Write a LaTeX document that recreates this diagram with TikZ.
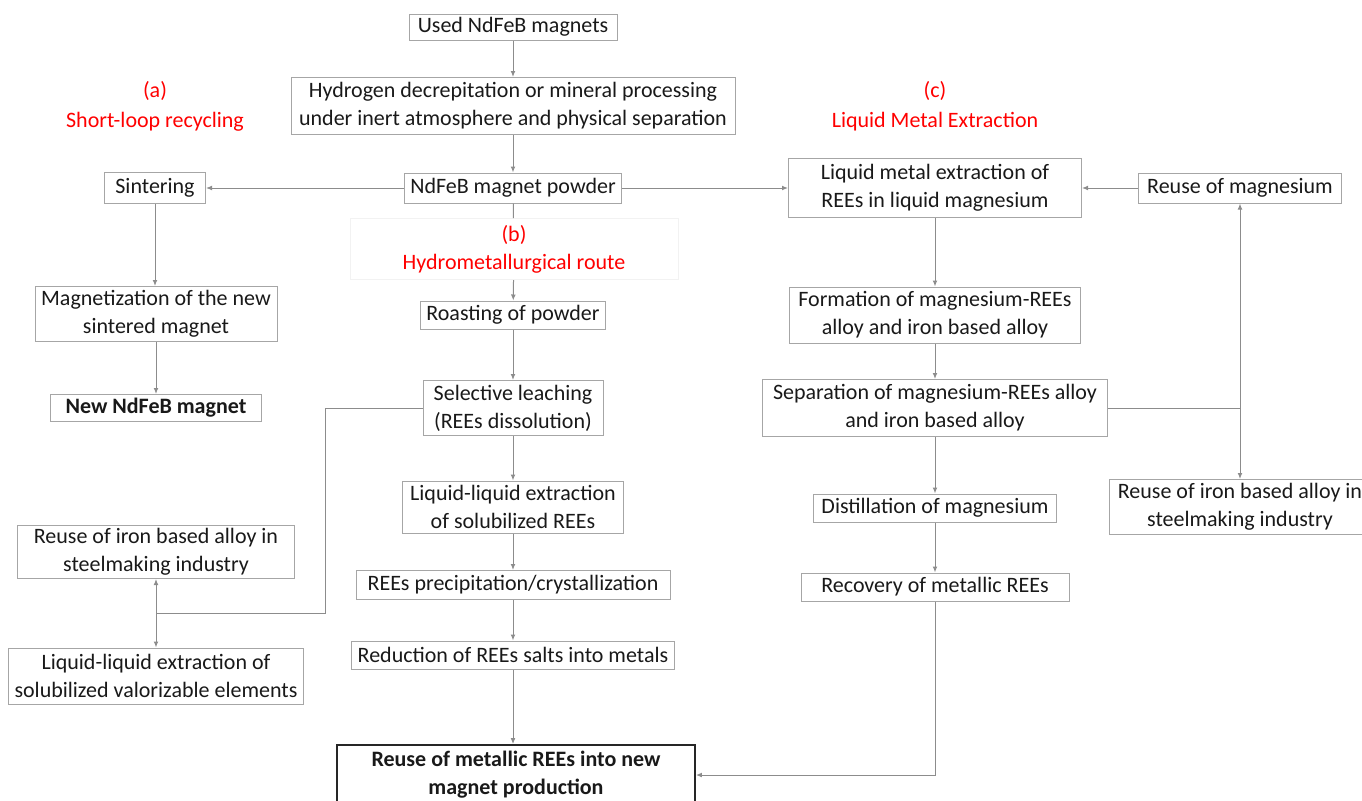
\documentclass[tikz,border=0pt]{standalone}
\usepackage{fontspec}
\setmainfont{Carlito}
\usetikzlibrary{arrows.meta}
\usetikzlibrary{positioning}

\begin{document}
\begin{tikzpicture}[
  x=0.5pt, y=-0.5pt,
  font=\fontsize{11}{14}\selectfont,
  box/.style={draw=black!35, line width=0.5pt, align=center, inner xsep=3pt, inner ysep=1pt, text=black!90},
  mainbox/.style={box, draw=black!85, line width=0.9pt, font=\fontsize{11}{14}\selectfont\bfseries},
  route/.style={text=red, align=center},
  flow/.style={draw=black!45, line width=0.5pt, -{Latex[length=3pt,width=2.4pt]}},
  link/.style={draw=black!45, line width=0.5pt}
]
\useasboundingbox (0,0) rectangle (1362,800);

% main trunk
\node[box, minimum width=104pt, minimum height=13pt] (used) at (513,27) {Used NdFeB magnets};
\node[box, minimum width=222pt, minimum height=28.5pt] (hydro) at (513,106) {Hydrogen decrepitation or mineral processing\\under inert atmosphere and physical separation};
\node[box, minimum width=108pt, minimum height=15pt] (powder) at (513,188) {NdFeB magnet powder};

% (a) short-loop recycling
\node[route] (laba) at (155,106) {(a)\\[1pt]Short-loop recycling};
\node[box, minimum width=50.5pt, minimum height=15.5pt] (sinter) at (155,188) {Sintering};
\node[box, minimum width=121pt, minimum height=27.5pt] (magn) at (156,314) {Magnetization of the new\\sintered magnet};
\node[box, minimum width=105.5pt, minimum height=13.5pt, font=\fontsize{11}{14}\selectfont\bfseries] (newmag) at (156,408) {New NdFeB magnet};

% (b) hydrometallurgical route
\node[route, draw=black!5, fill=white, minimum width=164pt, minimum height=28.5pt] (labb) at (514,249) {(b)\\Hydrometallurgical route};
\node[box, minimum width=92.5pt, minimum height=14pt] (roast) at (513,315) {Roasting of powder};
\node[box, minimum width=90pt, minimum height=27.5pt] (leach) at (513,408) {Selective leaching\\(REEs dissolution)};
\node[box, minimum width=110.5pt, minimum height=26pt] (lle) at (513,507) {Liquid-liquid extraction\\of solubilized REEs};
\node[box, minimum width=157pt, minimum height=14.5pt] (precip) at (513,585) {REEs precipitation/crystallization};
\node[box, minimum width=159.5pt, minimum height=14pt] (reduct) at (513,655) {Reduction of REEs salts into metals};
\node[box, minimum width=138.5pt, minimum height=26.5pt] (feleft) at (156,552) {Reuse of iron based alloy in\\steelmaking industry};
\node[box, minimum width=146pt, minimum height=28pt] (valor) at (156,676) {Liquid-liquid extraction of\\solubilized valorizable elements};
\coordinate (lturn) at (325,613);
\coordinate (lsplit) at (156,613);

% (c) liquid metal extraction
\node[route] (labc) at (935,106) {(c)\\[1pt]Liquid Metal Extraction};
\node[box, minimum width=146.5pt, minimum height=29.5pt] (lmext) at (935,188) {Liquid metal extraction of\\REEs in liquid magnesium};
\node[box, minimum width=101.5pt, minimum height=15pt] (reusemg) at (1240,188) {Reuse of magnesium};
\node[box, minimum width=145.5pt, minimum height=28pt] (form) at (935,315) {Formation of magnesium-REEs\\alloy and iron based alloy};
\node[box, minimum width=172.5pt, minimum height=28.5pt] (sep) at (935,408) {Separation of magnesium-REEs alloy\\and iron based alloy};
\node[box, minimum width=121.5pt, minimum height=14pt] (distill) at (935,508) {Distillation of magnesium};
\node[box, minimum width=134pt, minimum height=14pt] (recov) at (935,587) {Recovery of metallic REEs};
\node[box, minimum width=131pt, minimum height=27.5pt] (feright) at (1240,507) {Reuse of iron based alloy in\\steelmaking industry};
\coordinate (rsplit) at (1240,408);

% final product
\node[mainbox, minimum width=179pt, minimum height=30pt] (final) at (516,775) {Reuse of metallic REEs into new\\magnet production};

% connectors
\draw[flow] (used) -- (hydro);
\draw[flow] (hydro) -- (powder);
\draw[flow] (powder) -- (sinter);
\draw[flow] (powder) -- (lmext);
\draw[flow] (sinter) -- (sinter |- magn.north);
\draw[flow] (magn) -- (magn |- newmag.north);
\draw[link] (powder) -- (labb);
\draw[flow] (labb) -- (roast);
\draw[flow] (roast) -- (leach);
\draw[flow] (leach) -- (lle);
\draw[flow] (lle) -- (precip);
\draw[flow] (precip) -- (reduct);
\draw[flow] (reduct) -- (reduct |- final.north);
\draw[link] (leach.west) -| (lturn) -- (lsplit);
\draw[flow] (lsplit) -- (feleft);
\draw[flow] (lsplit) -- (valor);
\draw[flow] (reusemg) -- (lmext);
\draw[flow] (lmext) -- (form);
\draw[flow] (form) -- (sep);
\draw[flow] (sep) -- (distill);
\draw[flow] (distill) -- (recov);
\draw[flow] (recov.south) |- (final.east);
\draw[link] (sep.east) -- (rsplit);
\draw[flow] (rsplit) -- (reusemg);
\draw[flow] (rsplit) -- (feright);
\end{tikzpicture}
\end{document}
